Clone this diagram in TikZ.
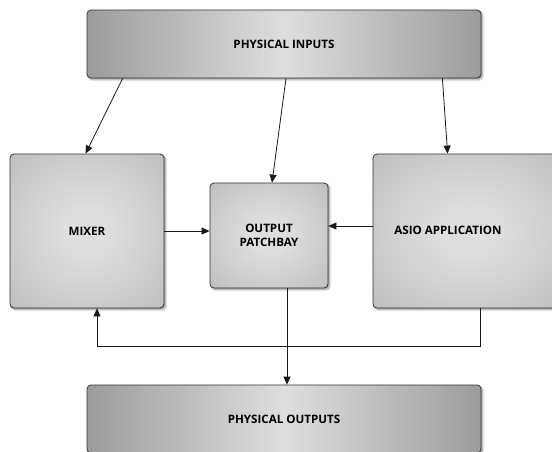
\documentclass[tikz,border=0pt]{standalone}
\usepackage{fontspec}
\setmainfont{Open Sans}
\usetikzlibrary{arrows.meta,shadows.blur}
\definecolor{boxlight}{HTML}{DEDEDE}
\definecolor{boxmid}{HTML}{AEAEAE}
\definecolor{boxdark}{HTML}{9C9C9C}
\definecolor{boxline}{HTML}{333333}
\pgfdeclareradialshading{sqshade}{\pgfpoint{0bp}{0bp}}{color(0bp)=(boxlight); color(8bp)=(boxlight); color(50bp)=(boxmid); color(71bp)=(boxdark)}
\pgfdeclarehorizontalshading{wideshade}{100bp}{color(0bp)=(boxdark); color(25bp)=(boxdark); color(50bp)=(boxlight); color(75bp)=(boxdark); color(100bp)=(boxdark)}
\tikzset{
  txt/.style={font=\bfseries\fontsize{11.6}{13.5}\selectfont, align=center, inner sep=0pt},
  base/.style={txt, draw=boxline, line width=0.8pt, rounded corners=4pt,
    blur shadow={shadow xshift=1.6pt, shadow yshift=-1.6pt, shadow blur steps=6, shadow blur radius=2pt, shadow opacity=45}},
  widebox/.style={base, shading=wideshade, minimum width=394pt, minimum height=68pt},
  sqbox/.style={base, shading=sqshade},
  conn/.style={draw=black!90, line width=0.8pt, -{Triangle[length=8pt,width=7pt]}}
}
\begin{document}
\begin{tikzpicture}[x=1pt,y=-1pt]
\useasboundingbox (0,0) rectangle (552,451);
\clip (0,0) rectangle (552,451);
\node[widebox] (in) at (284,44) {PHYSICAL INPUTS};
\node[sqbox, minimum width=154pt, minimum height=154pt] (mix) at (87,231) {MIXER};
\node[sqbox, minimum width=118pt, minimum height=105pt] (pb) at (269,235.5) {OUTPUT\\[1pt]PATCHBAY};
\node[sqbox, minimum width=192pt, minimum height=154pt] (asio) at (469,231) {};
\node[txt] (asiot) at (448,230) {ASIO APPLICATION};
\node[widebox] (out) at (284,419) {PHYSICAL OUTPUTS};
% connectors
\draw[conn] ([xshift=36pt]in.south west) -- ([xshift=76pt]mix.north west);
\draw[conn] ([xshift=2pt]in.south) -- ([xshift=3pt]pb.north);
\draw[conn] ([xshift=-39pt]in.south east) -- ([xshift=75pt]asio.north west);
\draw[conn] (mix.east) -- (mix.east -| pb.west);
\draw[conn] ([yshift=5pt]asio.west) -- ([yshift=5pt]asio.west -| pb.east);
\draw[conn] ([xshift=18pt]pb.south) -- ([xshift=18pt]pb.south |- out.north);
\draw[conn] ([xshift=108pt]asio.south west) |- ++(0,38) -| ([xshift=10pt]mix.south);
\end{tikzpicture}
\end{document}
